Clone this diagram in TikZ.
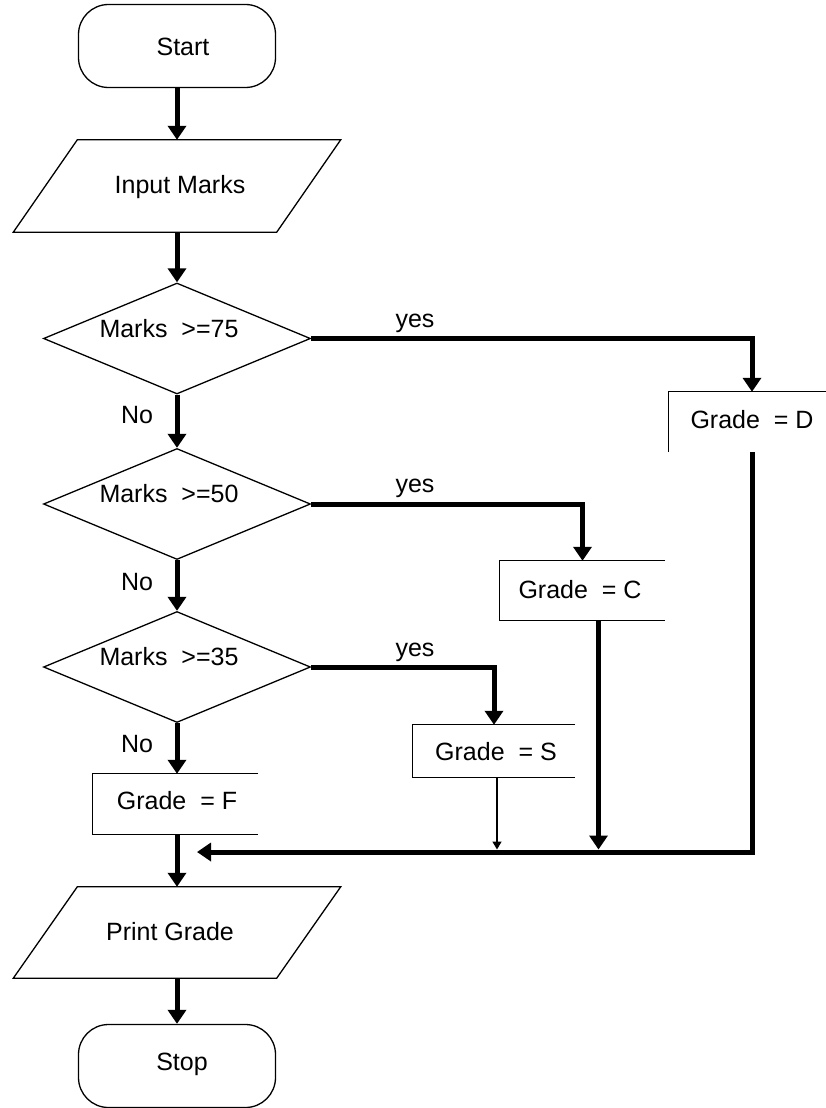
\documentclass[tikz,border=0pt]{standalone}
\usepackage{fontspec}
\setmainfont{Liberation Sans}
\usetikzlibrary{arrows.meta,shapes.geometric}
\begin{document}
\begin{tikzpicture}[x=1pt,y=-1pt,
  font=\fontsize{25}{30}\selectfont,
  outline/.style={line width=1.3pt},
  term/.style={draw, outline, rectangle, rounded corners=30pt, minimum width=197pt, minimum height=83pt, inner sep=0pt},
  io/.style={rectangle, minimum width=263pt, minimum height=92pt, inner sep=0pt},
  dec/.style={diamond, draw, outline, minimum width=267pt, minimum height=111pt, inner sep=0pt, aspect=2.4},
  gbox/.style={rectangle, inner sep=0pt},
  txt/.style={inner sep=0pt},
  flow/.style={line width=5pt, -{Triangle[width=18pt,length=14pt]}},
  thinflow/.style={line width=1.5pt, -{Triangle[width=9pt,length=8pt]}}
]
\useasboundingbox (0,0) rectangle (826,1108);

% terminals
\node[term] (start) at (177,46) {};
\node[txt] (starttxt) at (183,47) {Start};
\node[term] (stop) at (177,1066) {};
\node[txt] (stoptxt) at (182,1064) {Stop};

% input / output
\node[io] (inp) at (177,186) {};
\draw[outline] ([xshift=-32pt]inp.south west) -- ([xshift=-32pt]inp.south east)
  -- ([xshift=32pt]inp.north east) -- ([xshift=32pt]inp.north west) -- cycle;
\node[txt] (inptxt) at (180,187) {Input Marks};

\node[io, minimum height=91pt] (prt) at (177,932.5) {};
\draw[outline] ([xshift=-32pt]prt.south west) -- ([xshift=-32pt]prt.south east)
  -- ([xshift=32pt]prt.north east) -- ([xshift=32pt]prt.north west) -- cycle;
\node[txt] (prttxt) at (170,932) {Print Grade};

% decisions
\node[dec] (d1) at (177,338.5) {};
\node[txt] (d1txt) at (169,329) {Marks\ \ >=75};
\node[dec] (d2) at (177,504) {};
\node[txt] (d2txt) at (169,494) {Marks\ \ >=50};
\node[dec] (d3) at (177,667) {};
\node[txt] (d3txt) at (169,657) {Marks\ \ >=35};

% grade boxes (partial borders as in the reference)
\node[gbox, minimum width=166pt, minimum height=60pt] (gd) at (752,422) {};
\node[txt] (gdtxt) at (752,420) {Grade\ \ = D};
\draw[outline] (gd.south west) -- (gd.north west) -- ([xshift=-9pt]gd.north east);

\node[gbox, minimum width=165pt, minimum height=59pt] (gc) at (582.5,590.5) {};
\node[txt] (gctxt) at (580,590) {Grade\ \ = C};
\draw[outline] (gc.north east) -- (gc.north west) -- (gc.south west) -- (gc.south east);

\node[gbox, minimum width=162pt, minimum height=52pt] (gs) at (494,751) {};
\node[txt] (gstxt) at (496,752) {Grade\ \ = S};
\draw[outline] (gs.north east) -- (gs.north west) -- (gs.south west) -- (gs.south east);

\node[gbox, minimum width=165pt, minimum height=60pt] (gf) at (175.5,804) {};
\node[txt] (gftxt) at (177,801) {Grade\ \ = F};
\draw[outline] (gf.north east) -- (gf.north west) -- (gf.south west) -- (gf.south east);

% labels
\node[txt] (no1) at (137,415) {No};
\node[txt] (no2) at (137,582) {No};
\node[txt] (no3) at (137,744) {No};
\node[txt] (yes1) at (415,323) {yes};
\node[txt] (yes2) at (415,488) {yes};
\node[txt] (yes3) at (415,652) {yes};

% main flow
\draw[flow] (start) -- (inp);
\draw[flow] (inp) -- (d1);
\draw[flow] (d1) -- (d2);
\draw[flow] (d2) -- (d3);
\draw[flow] (d3.south) -- (d3.south |- gf.north);
\draw[flow] (d3.south |- gf.south) -- (prt);
\draw[flow] (prt) -- (stop);

% yes branches
\draw[flow] (d1.east) -| (gd.north);
\draw[flow] (d2.east) -| (gc.north);
\draw[flow] (d3.east) -| (gs.north);

% merging
\coordinate (mtip) at (197,852);
\coordinate (mtop) at (0,849.5);
\draw[flow] (gd.south) |- (mtip);
\draw[flow] ([xshift=16pt]gc.south) -- ([xshift=16pt]gc.south |- mtop);
\draw[thinflow] ([xshift=3pt]gs.south) -- ([xshift=3pt]gs.south |- mtop);
\end{tikzpicture}
\end{document}
